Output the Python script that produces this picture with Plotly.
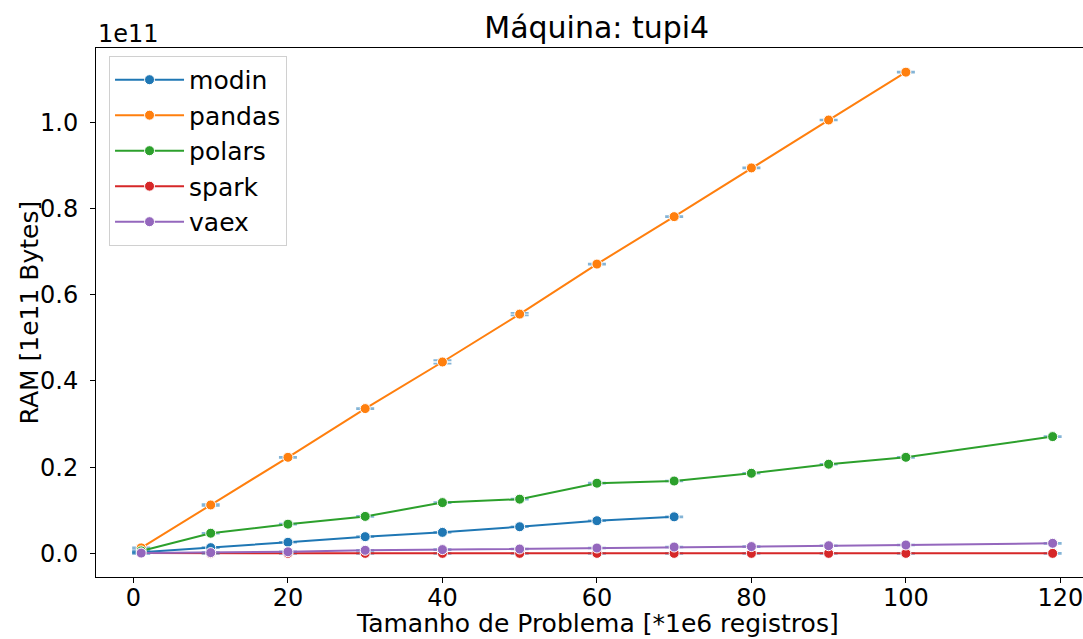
import plotly.graph_objects as go

# Data (RAM in units of 1e11 bytes) vs problem size (*1e6 records)
x_modin = [1, 10, 20, 30, 40, 50, 60, 70]
y_modin = [0.003, 0.0135, 0.026, 0.039, 0.049, 0.062, 0.076, 0.085]

x_pandas = [1, 10, 20, 30, 40, 50, 60, 70, 80, 90, 100]
y_pandas = [0.013, 0.1125, 0.223, 0.336, 0.444, 0.555, 0.671, 0.781, 0.894, 1.005, 1.116]
e_pandas = [0.001, 0.002, 0.001, 0.001, 0.004, 0.003, 0.001, 0.001, 0.001, 0.001, 0.001]

x_polars = [1, 10, 20, 30, 40, 50, 60, 70, 80, 90, 100, 119]
y_polars = [0.006, 0.047, 0.068, 0.086, 0.118, 0.126, 0.163, 0.168, 0.186, 0.207, 0.223, 0.271]

x_spark = [1, 10, 20, 30, 40, 50, 60, 70, 80, 90, 100, 119]
y_spark = [0.001, 0.0003, 0.0003, 0.0003, 0.0003, 0.0003, 0.0003, 0.0003, 0.0003, 0.0003, 0.0003, 0.0003]

x_vaex = [1, 10, 20, 30, 40, 50, 60, 70, 80, 90, 100, 119]
y_vaex = [0.001, 0.002, 0.004, 0.0074, 0.009, 0.0104, 0.0127, 0.015, 0.016, 0.018, 0.0197, 0.0236]

x_ticks = [0, 20, 40, 60, 80, 100, 120]
y_ticks = [0.0, 0.2, 0.4, 0.6, 0.8, 1.0]

title_text = "Máquina: tupi4"
x_label = "Tamanho de Problema [*1e6 registros]"
y_label = "RAM [1e11 Bytes]"
offset_text = "1e11"

colors = {"modin": "#1f77b4", "pandas": "#ff7f0e", "polars": "#2ca02c",
          "spark": "#d62728", "vaex": "#9467bd"}
err_color = "rgba(31,119,180,0.55)"
FONT = "DejaVu Sans"

series = [
    ("modin", x_modin, y_modin, None),
    ("pandas", x_pandas, y_pandas, e_pandas),
    ("polars", x_polars, y_polars, None),
    ("spark", x_spark, y_spark, None),
    ("vaex", x_vaex, y_vaex, None),
]

fig = go.Figure()
for name, xs, ys, es in series:
    errs = es if es is not None else [0.001] * len(xs)
    fig.add_trace(go.Scatter(
        x=xs, y=ys, name=name, mode="lines+markers",
        line=dict(color=colors[name], width=2),
        marker=dict(color=colors[name], size=10, line=dict(color="white", width=1)),
        error_y=dict(type="data", array=errs, visible=True, color=err_color,
                     thickness=1.8, width=9),
    ))

fig.update_layout(
    width=1083, height=639,
    margin=dict(l=96, r=0, t=48, b=62),
    paper_bgcolor="white", plot_bgcolor="white",
    font=dict(family=FONT, color="black", size=24),
    title=dict(text=title_text, x=0.551, xref="container", xanchor="center",
               y=0.957, yref="container", yanchor="middle",
               font=dict(family=FONT, size=30, color="black")),
    showlegend=True,
    legend=dict(x=0.0132, y=0.985, xanchor="left", yanchor="top",
                bgcolor="rgba(255,255,255,0.85)", bordercolor="#d0d0d0", borderwidth=1,
                font=dict(family=FONT, size=25, color="black"),
                itemwidth=69, tracegroupgap=0),
    annotations=[
        dict(text=offset_text, xref="paper", yref="paper", x=0.0, y=1.0,
             xanchor="left", yanchor="bottom", showarrow=False,
             font=dict(family=FONT, size=24, color="black"), yshift=-2),
        dict(text=x_label, xref="paper", yref="paper", x=0.5076, y=-0.0888,
             xanchor="center", yanchor="middle", showarrow=False,
             font=dict(family=FONT, size=25, color="black")),
        dict(text=y_label, xref="paper", yref="paper", x=-0.0669, y=0.5,
             xanchor="center", yanchor="middle", showarrow=False, textangle=-90,
             font=dict(family=FONT, size=25, color="black")),
    ],
)

fig.update_xaxes(
    range=[-4.85, 122.93], tickvals=x_ticks, ticktext=[str(v) for v in x_ticks],
    showgrid=False, zeroline=False, showline=True, linecolor="black", linewidth=1,
    mirror=True, ticks="outside", ticklen=5, tickcolor="black",
    ticklabeloverflow="allow", ticklabelstandoff=-6, automargin=False,
    tickfont=dict(family=FONT, size=24, color="black"),
)
fig.update_yaxes(
    range=[-0.0545, 1.172], tickvals=y_ticks, ticktext=[f"{v:.1f}" for v in y_ticks],
    showgrid=False, zeroline=False, showline=True, linecolor="black", linewidth=1,
    ticks="outside", ticklen=5, tickcolor="black", ticklabelstandoff=7, automargin=False,
    tickfont=dict(family=FONT, size=24, color="black"),
)

fig.write_html("out.html")
